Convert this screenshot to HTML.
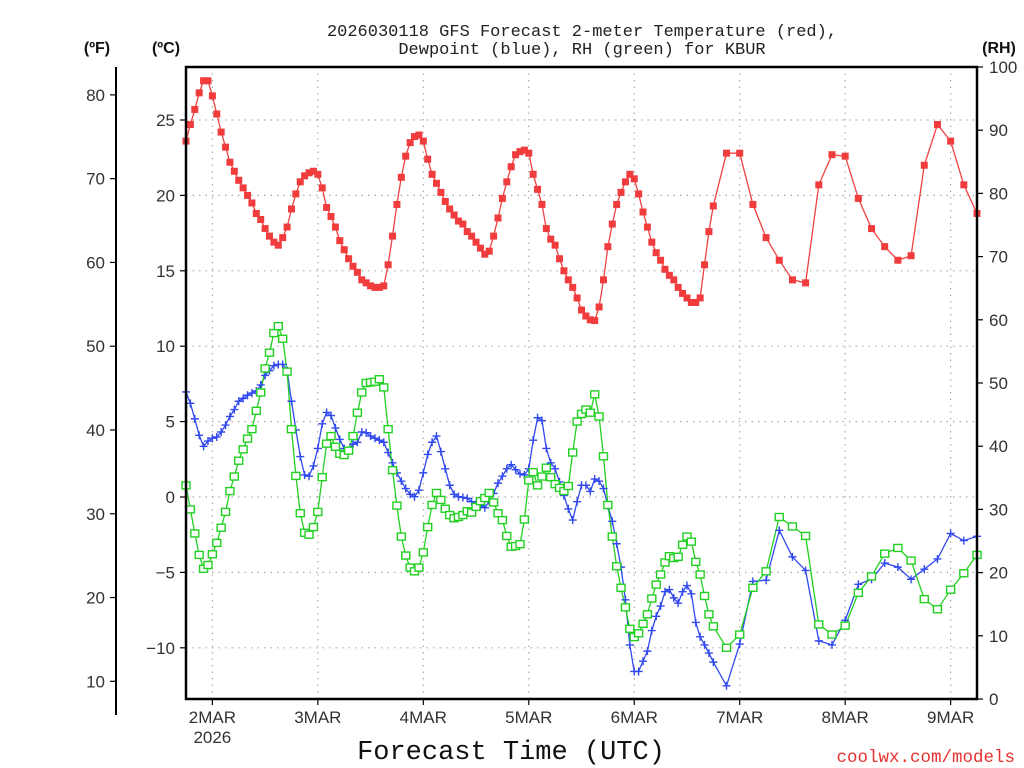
<!DOCTYPE html>
<html><head><meta charset="utf-8"><style>
html,body{margin:0;padding:0;background:#fff;}
svg{display:block;font-family:"Liberation Sans",sans-serif;}
.mono{font-family:"Liberation Mono",monospace;}
</style></head><body>
<svg id="chart" width="1024" height="768" viewBox="0 0 1024 768" xmlns="http://www.w3.org/2000/svg">
<rect x="0" y="0" width="1024" height="768" fill="#fff"/>
<text class="mono" x="582" y="36" text-anchor="middle" font-size="17" fill="#222">2026030118 GFS Forecast 2-meter Temperature (red),</text>
<text class="mono" x="582" y="54" text-anchor="middle" font-size="17" fill="#222">Dewpoint (blue), RH (green) for KBUR</text>
<text x="97" y="53" text-anchor="middle" font-size="16" font-weight="bold" fill="#111">(ºF)</text>
<text x="166" y="53" text-anchor="middle" font-size="16" font-weight="bold" fill="#111">(ºC)</text>
<text x="999" y="53" text-anchor="middle" font-size="16" font-weight="bold" fill="#111">(RH)</text>
<g id="grid"></g>
<g id="axes"></g>
<g id="series"></g>
<rect x="186" y="67" width="791" height="632" fill="none" stroke="#000" stroke-width="2.5"/>
<text class="mono" x="511" y="759" text-anchor="middle" font-size="27" fill="#111">Forecast Time (UTC)</text>
<text class="mono" x="1015" y="762" text-anchor="end" font-size="17.5" fill="#e83030">coolwx.com/models</text>
</svg>
<script>
// Forecast hours from 2026-03-01 18Z
const tempC = [23.6,24.7,25.7,26.8,27.6,27.6,26.6,25.4,24.2,23.2,22.2,21.6,21.0,20.5,20.0,19.5,18.8,18.4,17.8,17.3,16.9,16.7,17.2,17.9,19.1,20.1,20.9,21.3,21.5,21.6,21.4,20.5,19.2,18.6,17.9,17.0,16.4,15.8,15.3,14.9,14.4,14.2,14.0,13.9,13.9,14.0,
15.4,17.3,19.4,21.2,22.6,23.5,23.9,24.0,23.6,22.4,21.4,20.8,20.2,19.6,19.1,18.7,18.3,18.1,17.6,17.3,16.9,16.5,16.1,16.3,17.3,18.5,19.8,20.9,21.9,22.7,22.9,23.0,22.8,21.4,20.4,19.4,17.8,17.1,16.7,15.8,15.0,14.4,13.9,13.2,12.4,12.0,
11.75,11.7,12.6,14.4,16.6,18.1,19.4,20.2,20.9,21.4,21.1,20.1,18.9,17.9,16.9,16.2,15.7,15.1,14.7,14.4,13.9,13.5,13.2,12.9,12.9,13.2,15.4,17.6,19.3,
22.8,22.8,19.4,17.2,15.7,14.4,14.2,20.7,22.7,22.6,19.8,17.8,16.6,15.7,16.0,22.0,24.7,23.6,20.7,18.8];
const dewC = [6.97,6.21,5.18,4.09,3.36,3.71,3.90,3.98,4.31,4.77,5.34,5.80,6.35,6.54,6.75,6.89,7.03,7.43,8.06,8.38,8.71,8.79,8.79,8.38,6.35,4.45,2.68,1.46,1.38,2.06,3.22,4.85,5.61,5.40,4.58,3.82,3.22,3.09,3.50,3.63,4.31,4.26,4.04,3.90,3.77,3.63,
2.95,2.27,1.60,1.05,0.56,0.18,0.02,0.45,1.60,2.82,3.63,4.04,3.01,1.87,0.78,0.18,0.02,-0.03,-0.09,-0.31,-0.44,-0.58,-0.71,-0.31,0.24,0.92,1.38,1.87,2.14,1.81,1.54,1.46,1.87,3.77,5.26,5.07,3.22,2.27,1.87,1.00,0.10,-0.79,-1.53,-0.31,0.78,
0.78,0.37,1.19,1.05,0.56,-0.58,-1.61,-3.10,-4.65,-6.82,-9.81,-11.57,-11.57,-10.89,-10.22,-8.86,-7.91,-7.23,-6.28,-6.14,-6.69,-7.04,-6.28,-5.87,-6.42,-8.32,-9.27,-9.81,-10.35,-10.95,
-12.52,-9.75,-5.60,-5.52,-2.21,-3.97,-4.87,-9.54,-9.81,-8.18,-5.79,-5.46,-4.38,-4.65,-5.46,-4.79,-4.11,-2.42,-2.89,-2.61];
const rhPct = [33.8,30.0,26.2,22.8,20.6,21.2,22.9,24.7,27.1,29.6,32.9,35.2,37.7,39.5,41.2,42.7,45.6,48.5,52.3,54.8,57.9,59.0,57.0,51.8,42.7,35.3,29.4,26.3,26.0,27.2,29.6,35.1,40.4,41.6,39.9,38.8,38.6,39.3,41.6,45.3,48.5,50.0,50.1,50.2,50.6,49.3,
42.7,36.2,30.6,25.7,22.7,20.8,20.2,20.8,23.2,27.2,30.7,32.6,31.5,30.1,29.1,28.6,28.8,29.1,29.7,29.5,30.4,31.3,31.8,32.6,31.1,29.4,28.3,25.8,24.1,24.2,24.5,28.4,34.6,35.9,33.8,35.2,36.6,35.1,34.0,33.4,32.9,33.7,39.0,43.9,45.1,
45.8,45.3,48.2,44.7,38.4,30.7,25.7,21.0,17.6,14.5,11.1,9.8,10.4,11.9,13.4,15.9,18.1,19.7,21.6,22.6,22.3,22.5,24.4,25.7,24.9,21.7,19.7,16.3,13.4,11.5,
8.1,10.2,17.6,20.2,28.8,27.3,25.8,11.8,10.2,11.6,16.8,19.4,23.0,23.9,21.9,15.8,14.2,17.3,19.9,22.8];
const forecastHours = [];
for (let h = 0; h <= 120; h++) forecastHours.push(h);
for (let h = 123; h <= 180; h += 3) forecastHours.push(h);
const celsiusTicks = [25,20,15,10,5,0,-5,-10];
const fahrenheitTicks = [80,70,60,50,40,30,20,10];
const rhTicks = [100,90,80,70,60,50,40,30,20,10,0];
const dayLabels = ["2MAR","3MAR","4MAR","5MAR","6MAR","7MAR","8MAR","9MAR"];

const X0=186, X1=977, Y0=67, Y1=699;
const xH = h => X0 + h*(X1-X0)/180;
const yC = c => 497 - c*15.08;
const yF = f => yC((f-32)*5/9);
const yRH = r => Y1 - r*(Y1-Y0)/100;
const NS="http://www.w3.org/2000/svg";
function mk(tag, attrs, parent, txt){
  const e=document.createElementNS(NS,tag);
  for(const k in attrs) e.setAttribute(k,attrs[k]);
  if(txt!==undefined) e.textContent=txt;
  parent.appendChild(e); return e;
}
const grid=document.getElementById('grid'), axes=document.getElementById('axes'), ser=document.getElementById('series');
celsiusTicks.forEach(c=>{
  const y=yC(c);
  const g=mk('line',{x1:X0,x2:X1,y1:y,y2:y,stroke:'#aaa','stroke-width':1.2,'stroke-dasharray':'1.5 5'},grid);
  
  
  mk('line',{x1:180,x2:X0,y1:y,y2:y,stroke:'#000','stroke-width':1.2},axes);
  const t=mk('text',{x:175,y:y+6,'text-anchor':'end','font-size':17,fill:'#333'},axes,c<0?'\u2212'+(-c):String(c));
  
  
});
dayLabels.forEach((d,i)=>{
  const x=xH(6+24*i);
  const g=mk('line',{x1:x,x2:x,y1:Y0,y2:Y1,stroke:'#aaa','stroke-width':1.2,'stroke-dasharray':'1.5 5'},grid);
  
  
  mk('line',{x1:x,x2:x,y1:Y1,y2:Y1+6,stroke:'#000','stroke-width':1.2},axes);
  const t=mk('text',{x:x,y:723,'text-anchor':'middle','font-size':17,fill:'#333'},axes,d);
  
  
});
const yr=mk('text',{x:xH(6),y:743,'text-anchor':'middle','font-size':17,fill:'#333'},axes,'2026');


const fl=mk('line',{x1:116,x2:116,y1:Y0,y2:Y1+16,stroke:'#000','stroke-width':2},axes);


fahrenheitTicks.forEach(f=>{
  const y=yF(f);
  mk('line',{x1:110,x2:116,y1:y,y2:y,stroke:'#000','stroke-width':1.2},axes);
  const t=mk('text',{x:105,y:y+6,'text-anchor':'end','font-size':17,fill:'#333'},axes,String(f));
  
  
});
rhTicks.forEach(r=>{
  const y=yRH(r);
  mk('line',{x1:X1,x2:X1+6,y1:y,y2:y,stroke:'#000','stroke-width':1.2},axes);
  const t=mk('text',{x:989,y:y+6,'text-anchor':'start','font-size':17,fill:'#333'},axes,String(r));
  
  
});
function drawLine(vals, yf, color, name){
  const pts=vals.map((v,i)=>xH(forecastHours[i]).toFixed(1)+','+yf(v).toFixed(1)).join(' ');
  const p=mk('polyline',{points:pts,fill:'none',stroke:color,'stroke-width':1.3},ser);
  
  
}
drawLine(dewC,yC,'#3048f0','dewpoint-line');
drawLine(rhPct,yRH,'#22d022','rh-line');
drawLine(tempC,yC,'#f04040','temperature-line');
dewC.forEach((v,i)=>{
  const x=xH(forecastHours[i]), y=yC(v);
  const p=mk('path',{d:`M${x-4},${y}H${x+4}M${x},${y-4}V${y+4}`,stroke:'#3048f0','stroke-width':1.4,fill:'none'},ser);
  
  
});
rhPct.forEach((v,i)=>{
  const x=xH(forecastHours[i]), y=yRH(v);
  const r=mk('rect',{x:x-4,y:y-3.5,width:8,height:7,fill:'#fff',stroke:'#22d022','stroke-width':1.4},ser);
  
  
});
tempC.forEach((v,i)=>{
  const x=xH(forecastHours[i]), y=yC(v);
  const r=mk('rect',{x:x-3.5,y:y-3.5,width:7,height:7,fill:'#f03c3c'},ser);
  
  
});
</script>
</body></html>
